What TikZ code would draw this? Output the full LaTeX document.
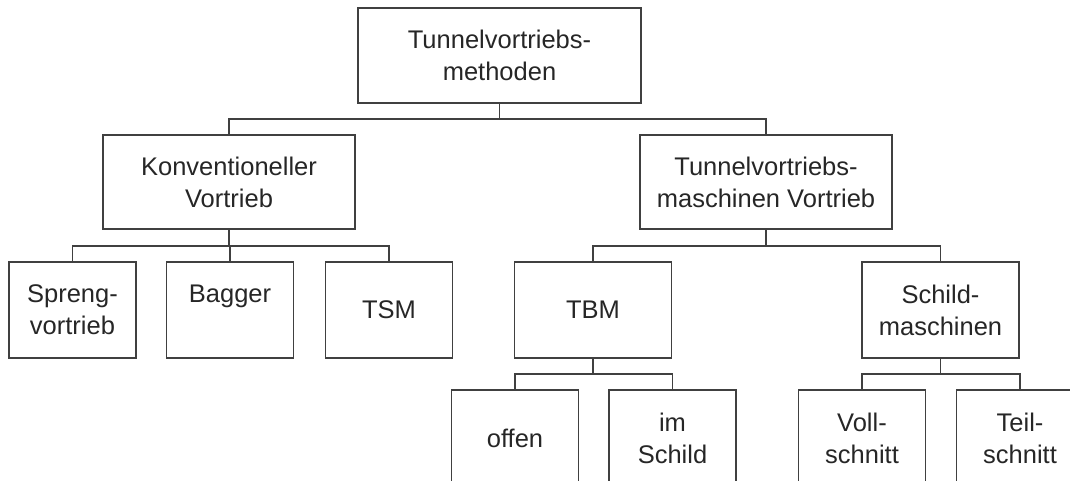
\documentclass[tikz,border=0pt]{standalone}
\usepackage{fontspec}
\setmainfont{Liberation Sans}

\begin{document}
\begin{tikzpicture}[x=1pt,y=-1pt,
  stage/.style={draw=black!75, line width=1.6pt, align=center, inner sep=0pt,
    text=black!85, font=\fontsize{25.5}{32}\selectfont},
  wide/.style={stage, minimum width=252, minimum height=94},
  small/.style={stage, minimum width=127, minimum height=96},
  mid/.style={stage, minimum width=157, minimum height=96},
  link/.style={draw=black!75, line width=1.6pt}]
  \useasboundingbox (0,0) rectangle (1070,481);
  \clip (0,0) rectangle (1070,481);

  %top box
  \node[stage, minimum width=283, minimum height=95] (root) at (499.5,55.5) {Tunnelvortriebs-\\methoden};

  %second row
  \node[wide] (konv) at (229,182) {Konventioneller\\Vortrieb};
  \node[wide] (tvm) at (766,182) {Tunnelvortriebs-\\maschinen Vortrieb};

  %third row
  \node[small] (spreng) at (72.5,310) {Spreng-\\vortrieb};
  \node[small] (bagger) at (230,310) {Bagger\\\mbox{}};
  \node[small] (tsm) at (389,310) {TSM};
  \node[mid] (tbm) at (593,310) {TBM};
  \node[mid] (schild) at (940.5,310) {Schild-\\maschinen};

  %bottom row (cut off)
  \node[small] (offen) at (515,438) {offen};
  \node[small] (imschild) at (672.5,438) {im\\Schild};
  \node[small] (voll) at (862,438) {Voll-\\schnitt};
  \node[small] (teil) at (1020,438) {Teil-\\schnitt};

  %connectors
  \draw[link] (root.south) -- ++(0,15) -| (konv.north);
  \draw[link] (root.south) -- ++(0,15) -| (tvm.north);

  \draw[link] (konv.south) -- ++(0,16) -| (spreng.north);
  \draw[link] (konv.south) -- ++(0,16) -| (bagger.north);
  \draw[link] (konv.south) -- ++(0,16) -| (tsm.north);

  \draw[link] (tvm.south) -- ++(0,16) -| (tbm.north);
  \draw[link] (tvm.south) -- ++(0,16) -| (schild.north);

  \draw[link] (tbm.south) -- ++(0,15) -| (offen.north);
  \draw[link] (tbm.south) -- ++(0,15) -| (imschild.north);

  \draw[link] (schild.south) -- ++(0,15) -| (voll.north);
  \draw[link] (schild.south) -- ++(0,15) -| (teil.north);
\end{tikzpicture}
\end{document}
